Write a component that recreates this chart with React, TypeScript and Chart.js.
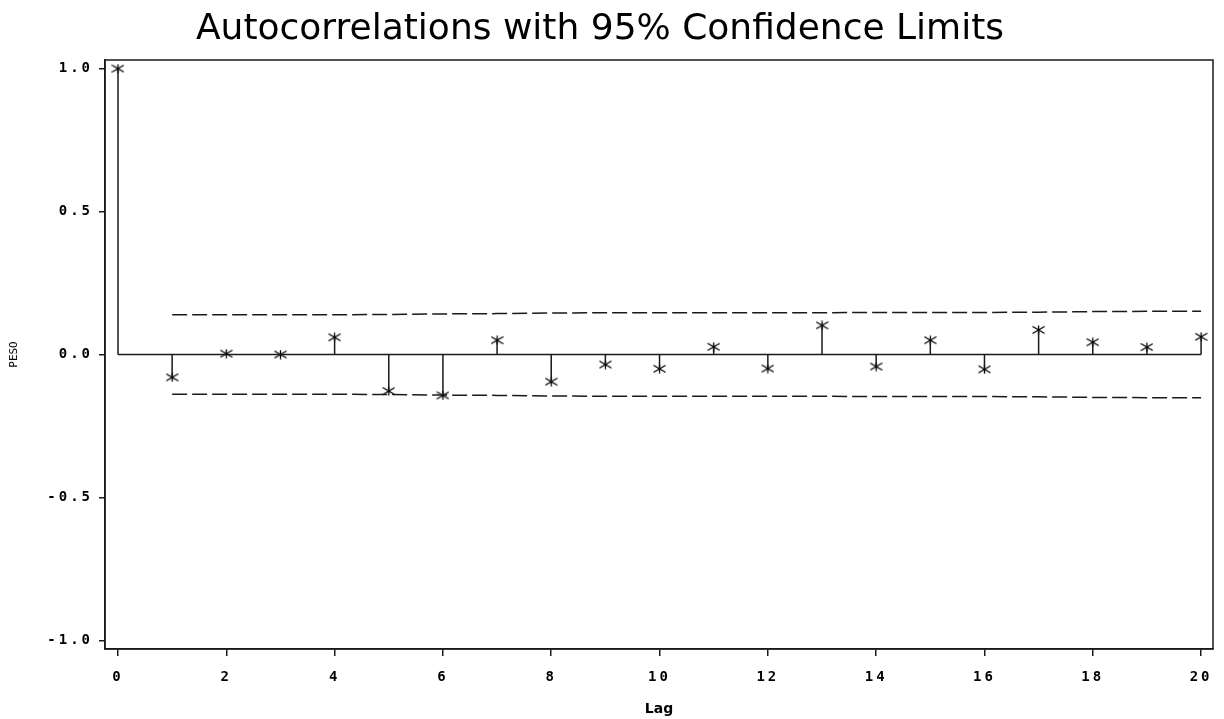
import React, { useEffect, useRef } from "react";
import { Chart, registerables } from "chart.js";

Chart.register(...registerables);

// ---- data ----
const lags = [0, 1, 2, 3, 4, 5, 6, 7, 8, 9, 10, 11, 12, 13, 14, 15, 16, 17, 18, 19, 20];
const acf = [
  1.0, -0.08, 0.003, 0.0, 0.06, -0.128, -0.143, 0.05, -0.095, -0.035, -0.05,
  0.027, -0.049, 0.102, -0.042, 0.05, -0.052, 0.086, 0.043, 0.026, 0.062,
];
const upperLimit = [
  null, 0.139, 0.139, 0.139, 0.139, 0.14, 0.142, 0.143, 0.145, 0.146, 0.146,
  0.146, 0.146, 0.146, 0.147, 0.147, 0.147, 0.148, 0.15, 0.151, 0.151,
];
const lowerLimit = [
  null, -0.139, -0.139, -0.139, -0.139, -0.14, -0.142, -0.143, -0.145, -0.146, -0.146,
  -0.146, -0.146, -0.146, -0.147, -0.147, -0.147, -0.148, -0.15, -0.151, -0.151,
];
const xTicks = [0, 2, 4, 6, 8, 10, 12, 14, 16, 18, 20];
const yTicks = [-1, -0.5, 0, 0.5, 1];
const yTickLabels = ["-1.0", "-0.5", "0.0", "0.5", "1.0"];
const titleText = "Autocorrelations with 95% Confidence Limits";
const xTitle = "Lag";
const yTitle = "PESO";

const INK = "#1a1a1a";

function makeStar(): HTMLCanvasElement {
  const c = document.createElement("canvas");
  c.width = 13;
  c.height = 10;
  const g = c.getContext("2d")!;
  g.strokeStyle = "#000";
  g.lineWidth = 1.3;
  g.beginPath();
  g.moveTo(6.5, 0.5);
  g.lineTo(6.5, 9.5);
  g.moveTo(0.5, 1.5);
  g.lineTo(12.5, 8.5);
  g.moveTo(0.5, 8.5);
  g.lineTo(12.5, 1.5);
  g.stroke();
  g.fillStyle = "#000";
  g.fillRect(5, 4, 3, 2);
  return c;
}

const framePlugin = {
  id: "frame",
  beforeDatasetsDraw(chart: any) {
    const { ctx, chartArea } = chart;
    ctx.save();
    ctx.strokeStyle = INK;
    ctx.lineWidth = 1.5;
    ctx.strokeRect(chartArea.left, chartArea.top, chartArea.right - chartArea.left, chartArea.bottom - chartArea.top);
    ctx.restore();
  },
};

const spacingPlugin = {
  id: "spacing",
  afterDatasetsDraw(chart: any) {
    (chart.ctx as any).letterSpacing = "3px";
  },
  afterDraw(chart: any) {
    (chart.ctx as any).letterSpacing = "0px";
  },
};

export default function App() {
  const ref = useRef<HTMLCanvasElement | null>(null);

  useEffect(() => {
    if (!ref.current) return;
    const star = makeStar();

    const needles: any[] = [];
    lags.forEach((l, i) => {
      needles.push({ x: l, y: 0 }, { x: l, y: acf[i] }, { x: l, y: null });
    });
    const zeroLine = [
      { x: lags[0], y: 0 },
      { x: lags[lags.length - 1], y: 0 },
    ];
    const points = lags.map((l, i) => ({ x: l, y: acf[i] }));
    const up = lags.map((l, i) => ({ x: l, y: upperLimit[i] })).filter((p) => p.y !== null);
    const lo = lags.map((l, i) => ({ x: l, y: lowerLimit[i] })).filter((p) => p.y !== null);

    const tickFont = { family: "DejaVu Sans Mono", size: 14, weight: "bold" as const };

    const chart = new Chart(ref.current, {
      type: "line",
      data: {
        datasets: [
          { data: zeroLine, borderColor: INK, borderWidth: 1.5, pointRadius: 0 },
          { data: needles, borderColor: INK, borderWidth: 1.5, pointRadius: 0, spanGaps: false },
          { data: up, borderColor: INK, borderWidth: 1.5, borderDash: [15, 5], pointRadius: 0 },
          { data: lo, borderColor: INK, borderWidth: 1.5, borderDash: [15, 5], pointRadius: 0 },
          { data: points, showLine: false, pointStyle: star as any, pointRadius: 5, borderColor: INK },
        ] as any,
      },
      options: {
        responsive: false,
        animation: false,
        events: [],
        layout: { padding: { left: -13, right: 11, top: 0, bottom: 0 } },
        plugins: {
          legend: { display: false },
          tooltip: { enabled: false },
          title: {
            display: true,
            text: titleText,
            color: "#000",
            font: { family: "DejaVu Sans", size: 36, weight: "normal", lineHeight: 1.2 },
            padding: { top: 8, bottom: 8.8 },
          },
        },
        scales: {
          x: {
            type: "linear",
            min: -0.24,
            max: 20.22,
            afterBuildTicks: (ax: any) => {
              ax.ticks = xTicks.map((v) => ({ value: v }));
            },
            afterFit: (ax: any) => {
              ax.height = 70;
            },
            ticks: {
              z: 1,
              color: "#000",
              font: tickFont,
              padding: 13,
              maxRotation: 0,
              autoSkip: false,
              callback: (v: any) => String(v),
            },
            grid: { display: true, drawOnChartArea: false, drawTicks: true, tickLength: 7, color: INK, lineWidth: 1.5 },
            border: { display: true, color: INK, width: 1.5 },
            title: {
              display: true,
              text: xTitle,
              color: "#000",
              font: { family: "DejaVu Sans", size: 14, weight: "bold" },
              padding: { top: 0, bottom: 1 },
            },
          },
          y: {
            type: "linear",
            min: -1.03,
            max: 1.03,
            afterBuildTicks: (ax: any) => {
              ax.ticks = yTicks.map((v) => ({ value: v }));
            },
            afterFit: (ax: any) => {
              ax.width = 118;
            },
            ticks: {
              z: 1,
              color: "#000",
              font: tickFont,
              padding: 6,
              autoSkip: false,
              callback: (_v: any, i: number) => yTickLabels[i],
            },
            grid: { display: true, drawOnChartArea: false, drawTicks: true, tickLength: 6, color: INK, lineWidth: 1.5 },
            border: { display: true, color: INK, width: 1.5 },
            title: {
              display: true,
              text: yTitle,
              color: "#000",
              font: { family: "DejaVu Sans Mono", size: 11, weight: "normal" },
              padding: { top: 21, bottom: 0 },
            },
          },
        },
      } as any,
      plugins: [framePlugin, spacingPlugin],
    });
    return () => chart.destroy();
  }, []);

  return (
    <div style={{ position: "fixed", left: 0, top: 0, width: 1224, height: 719, background: "#fff" }}>
      <canvas ref={ref} width={1224} height={719} />
    </div>
  );
}
